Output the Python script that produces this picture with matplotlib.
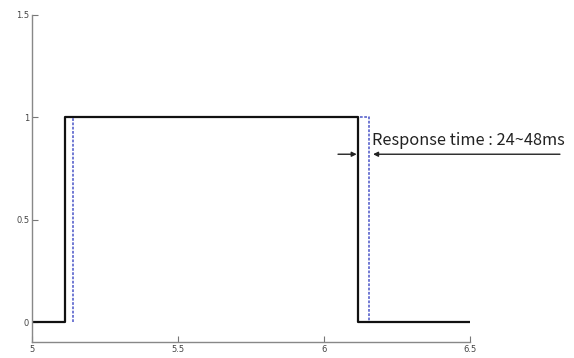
import matplotlib
matplotlib.use("Agg")
import matplotlib.pyplot as plt

# data
ref_t = [5.0, 5.114, 5.114, 6.116, 6.116, 6.5]
ref_y = [0, 0, 1, 1, 0, 0]
resp_t = [5.139, 5.139, 6.154, 6.154]
resp_y = [0, 1, 1, 0]
xticks = [5, 5.5, 6, 6.5]
xticklabels = ["5", "5.5", "6", "6.5"]
yticks = [0, 0.5, 1, 1.5]
yticklabels = ["0", "0.5", "1", "1.5"]
label = "Response time : 24~48ms"

fig = plt.figure(figsize=(5.74, 3.58), dpi=100)
ax = fig.add_axes([32/574, 16/358, (470-32)/574, (342-15)/358])

ax.plot(resp_t, resp_y, color="#4a55c8", lw=1.1, ls=(0, (1.8, 1.0)))
ax.plot(ref_t, ref_y, color="#111111", lw=1.6)

ax.set_xlim(5, 6.5)
ax.set_ylim(-0.097, 1.5)
ax.set_xticks(xticks)
ax.set_xticklabels(xticklabels)
ax.set_yticks(yticks)
ax.set_yticklabels(yticklabels)
for s in ["top", "right"]:
    ax.spines[s].set_visible(False)
for s in ["left", "bottom"]:
    ax.spines[s].set_color("#888888")
    ax.spines[s].set_linewidth(1.0)
ax.tick_params(direction="in", length=4, width=0.8, color="#777777",
               labelsize=6, labelcolor="#444444", pad=2)

# arrows
ax.annotate("", xy=(6.112, 0.82), xytext=(6.048, 0.82),
            arrowprops=dict(arrowstyle="-|>", color="#222222", lw=1.0,
                            mutation_scale=7, shrinkA=0, shrinkB=0))
ax.annotate("", xy=(6.168, 0.82), xytext=(6.808, 0.82),
            arrowprops=dict(arrowstyle="-|>", color="#222222", lw=1.0,
                            mutation_scale=7, shrinkA=0, shrinkB=0),
            annotation_clip=False)
ax.text(6.166, 0.885, label, fontsize=11.8, family=["Noto Sans CJK KR", "DejaVu Sans"],
        color="#222222", va="center", ha="left", clip_on=False)

fig.savefig("out.png", dpi=100)
